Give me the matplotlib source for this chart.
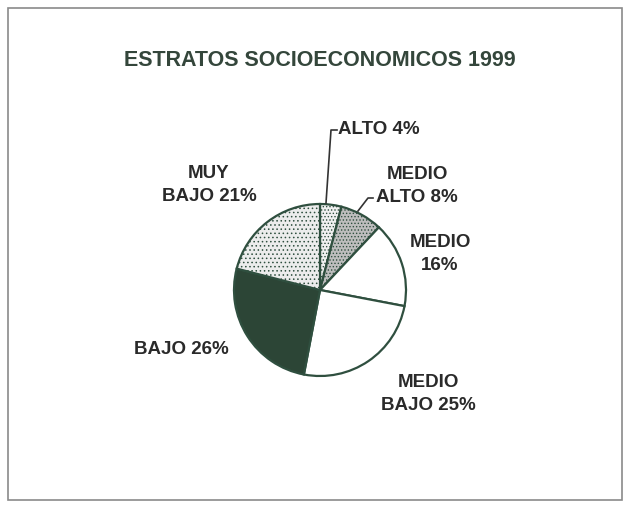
import matplotlib.pyplot as plt
from matplotlib.patches import Rectangle

plt.rcParams['font.family'] = ['Liberation Sans', 'DejaVu Sans']
plt.rcParams['hatch.linewidth'] = 0.6
plt.rcParams['hatch.color'] = '#707070'

# datos
estratos = ['ALTO', 'MEDIO ALTO', 'MEDIO', 'MEDIO BAJO', 'BAJO', 'MUY BAJO']
porcentajes = [4, 8, 16, 25, 26, 21]
etiquetas = ['ALTO 4%', 'MEDIO\nALTO 8%', 'MEDIO\n16%', 'MEDIO\nBAJO 25%', 'BAJO 26%', 'MUY\nBAJO 21%']
titulo = 'ESTRATOS SOCIOECONOMICOS 1999'

colores = ['#f0f0f0', '#bdbdbd', 'white', 'white', '#2c4536', '#ececec']
tramas = ['.....', '.....', '', '', '', '....']

fig = plt.figure(figsize=(6.28, 5.08), dpi=100)
ax = fig.add_axes([0, 0, 1, 1])
ax.set_xlim(0, 628)
ax.set_ylim(0, 508)
ax.set_aspect('equal')
ax.axis('off')

# marco
ax.add_patch(Rectangle((8, 8), 614, 492, fill=False, edgecolor='#8a8a8a', lw=1.2))

cuñas, _ = ax.pie(porcentajes, colors=colores, startangle=90, counterclock=False,
                  center=(320, 218), radius=86,
                  wedgeprops=dict(edgecolor='#2f4f3f', linewidth=1.6))
for w, h in zip(cuñas, tramas):
    if h:
        w.set_hatch(h)
ax.set_xlim(0, 628)
ax.set_ylim(0, 508)

ax.text(320, 448, titulo, ha='center', va='center', fontsize=15.5,
        fontweight='bold', color='#34463b')

estilo = dict(fontsize=13.5, fontweight='bold', color='#2a2a2a', linespacing=1.45)
pos = [(338, 378, 'left', 'center'),
       (417, 322, 'center', 'center'),
       (440, 254, 'center', 'center'),
       (428, 114, 'center', 'center'),
       (134, 158, 'left', 'center'),
       (209, 323, 'center', 'center')]
for lab, (x, y, ha, va) in zip(etiquetas, pos):
    ax.text(x, y, lab, ha=ha, va=va, **estilo)

# líneas guía
ax.plot([337, 331, 326], [378, 378, 305], color='#333333', lw=1.2)
ax.plot([373, 368, 358], [310, 310, 297], color='#333333', lw=1.2)

fig.savefig('out.png', dpi=100, facecolor='white')
